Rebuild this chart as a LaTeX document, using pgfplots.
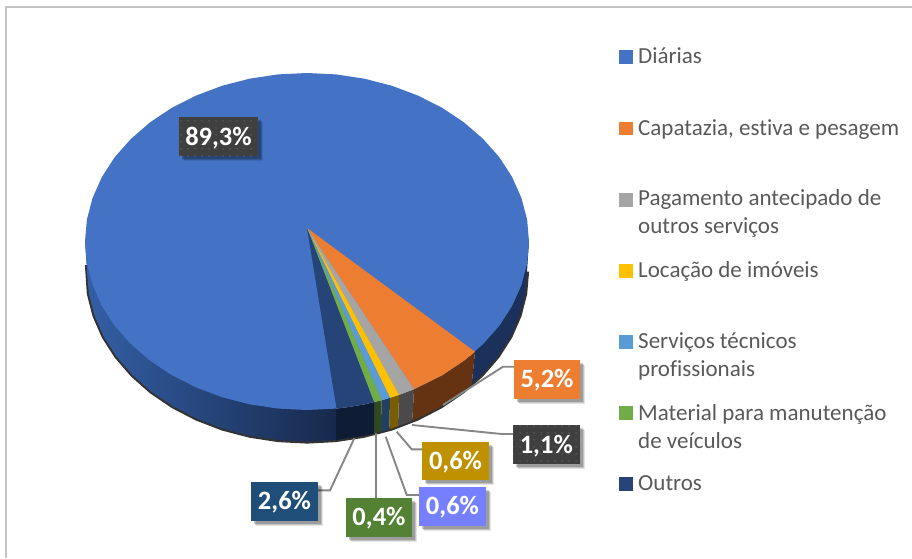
\documentclass[border=0pt]{standalone}
\usepackage{fontspec}
\setmainfont[Ligatures=NoCommon]{Carlito}
\usepackage{pgfplots}
\pgfplotsset{compat=1.18}
\usetikzlibrary{shadows,patterns.meta}
\definecolor{cDia}{HTML}{4472C4}
\definecolor{cCap}{HTML}{ED7D31}
\definecolor{cPag}{HTML}{A5A5A5}
\definecolor{cLoc}{HTML}{FFC000}
\definecolor{cSer}{HTML}{5B9BD5}
\definecolor{cMat}{HTML}{70AD47}
\definecolor{cOut}{HTML}{264478}
\definecolor{sLeftA}{HTML}{345FA6}
\definecolor{sLeftB}{HTML}{17294C}
\definecolor{sRight}{HTML}{1B305A}
\definecolor{sCap}{HTML}{653311}
\definecolor{sPag}{HTML}{4A4A4A}
\definecolor{sLoc}{HTML}{7A5D00}
\definecolor{sSer}{HTML}{22405F}
\definecolor{sMat}{HTML}{2F4A20}
\definecolor{sOut}{HTML}{0E1C35}
\definecolor{leader}{HTML}{868686}
\definecolor{ltext}{HTML}{595959}
\definecolor{frame}{HTML}{C4C4C4}
\definecolor{l1}{HTML}{3F3F3F}
\definecolor{l2}{HTML}{BF9000}
\definecolor{l3}{HTML}{7680FF}
\definecolor{l4}{HTML}{548235}
\definecolor{l5}{HTML}{1F4E79}
\newcommand{\lb}[1]{\raisebox{-8.4pt}[0pt][0pt]{#1}}
\tikzset{
 lab/.style={text=white,font=\fontsize{26.5}{26.5}\selectfont\bfseries,inner sep=0pt,
   minimum width=66.5pt,minimum height=39pt,
   drop shadow={shadow xshift=5pt,shadow yshift=-5pt,opacity=.10,fill=black},
   drop shadow={shadow xshift=4pt,shadow yshift=-4pt,opacity=.15,fill=black},
   drop shadow={shadow xshift=3pt,shadow yshift=-3pt,opacity=.20,fill=black}},
 dots/.style={postaction={pattern={Dots[distance=6.5pt,radius=.6pt]},pattern color=white!35!l1}},
 lt/.style={anchor=base west,text=ltext,inner sep=0pt,font=\fontsize{23}{23}\selectfont}
}
\begin{document}
\begin{tikzpicture}
\begin{axis}[scale only axis,width=912pt,height=558pt,xmin=0,xmax=912,ymin=0,ymax=558,
  y dir=reverse,hide axis,clip=true]
\path (axis cs:0,0) rectangle (axis cs:912,558);
% frame
\addplot[frame,line width=2.3pt] coordinates {(6,558)(6,7)(912,7)};
% dark rim shadow
\addplot[black!80,line width=4.2pt] coordinates {(527,271.5)(525.1,293.7)(519.5,315.5)(510.3,336.6)(497.5,356.5)(481.5,375)(462.6,391.7)(440.9,406.4)(417,418.7)(391.2,428.6)(363.9,435.7)(335.7,440)(307,441.5)(278.3,440)(250.1,435.7)(222.8,428.6)(197,418.7)(173.1,406.4)(151.4,391.7)(132.5,375)(116.5,356.5)(103.7,336.6)(94.5,315.5)(88.9,293.7)(87,265)};
% sides
\addplot[draw=none,left color=sLeftA,right color=sLeftB] coordinates {(336,408)(336,440)(307,441.5)(278.3,440)(250.1,435.7)(222.8,428.6)(197,418.7)(173.1,406.4)(151.4,391.7)(132.5,375)(116.5,356.5)(103.7,336.6)(94.5,315.5)(88.9,293.7)(87,271.5)(85,241.5)(200,250)} -- cycle;
\addplot[draw=none,fill=sRight] coordinates {(529,241.5)(527,271.5)(525.1,293.7)(519.5,315.5)(510.3,336.6)(497.5,356.5)(481.5,375)(471.7,384)(475,351.7)(400,250)} -- cycle;
\addplot[draw=none,fill=sCap] coordinates {(475,351.7)(471.7,384)(462.6,391.7)(440.9,406.4)(417,418.7)(412.3,420.7)(414,389.2)(442.2,375.2)(464,360.6)} -- cycle;
\addplot[draw=none,fill=sPag] coordinates {(414,389.2)(412.3,420.7)(398,426.2)(399,394.9)} -- cycle;
\addplot[draw=none,fill=sLoc] coordinates {(399,394.9)(398,426.2)(389.3,429.2)(390,397.8)} -- cycle;
\addplot[draw=none,fill=sSer] coordinates {(390,397.8)(389.3,429.2)(380.7,431.6)(381.7,400.2)} -- cycle;
\addplot[draw=none,fill=sMat] coordinates {(381.7,400.2)(380.7,431.6)(374,433.4)(374,402.1)} -- cycle;
\addplot[draw=none,fill=sOut] coordinates {(374,402.1)(374,433.4)(363.9,435.7)(336,440)(336,408.6)(350,406.8)(364.5,404.3)} -- cycle;
% top: Diarias
\addplot[draw=none,fill=cDia] coordinates {(529,241.5)(527.1,263.5)(521.4,285.1)(512.1,306)(499.3,325.8)(483.1,344.1)(464,360.6)(442.2,375.2)(418,387.4)(392,397.2)(364.5,404.3)(336,408.6)(307,410)(278,408.6)(249.5,404.3)(222,397.2)(196,387.4)(171.8,375.2)(150,360.6)(130.9,344.1)(114.7,325.8)(101.9,306)(92.6,285.1)(86.9,263.5)(85,241.5)(86.9,219.5)(92.6,197.9)(101.9,177)(114.7,157.2)(130.9,138.9)(150,122.4)(171.8,107.8)(196,95.6)(222,85.8)(249.5,78.7)(278,74.4)(307,73)(336,74.4)(364.5,78.7)(392,85.8)(418,95.6)(442.2,107.8)(464,122.4)(483.1,138.9)(499.3,157.2)(512.1,177)(521.4,197.9)(527.1,219.5)} -- cycle;
% top wedges
\addplot[draw=none,fill=cCap] coordinates {(307,228)(475,351.7)(464,360.6)(442.2,375.2)(414,389.2)} -- cycle;
\addplot[draw=none,fill=cPag] coordinates {(307,228)(414,389.2)(399,394.9)} -- cycle;
\addplot[draw=none,fill=cLoc] coordinates {(307,228)(399,394.9)(390,397.8)} -- cycle;
\addplot[draw=none,fill=cSer] coordinates {(307,228)(390,397.8)(381.7,400.2)} -- cycle;
\addplot[draw=none,fill=cMat] coordinates {(307,228)(381.7,400.2)(374,402.1)} -- cycle;
\addplot[draw=none,fill=cOut] coordinates {(307,228)(374,402.1)(364.5,404.3)(350,406.8)(336.5,408.6)} -- cycle;
% leader lines
\addplot[leader,line width=1.9pt] coordinates {(443,405)(503,366.7)(514,366.7)};
\addplot[leader,line width=1.9pt] coordinates {(412,425)(501.7,434)(513,434)};
\addplot[leader,line width=1.9pt] coordinates {(396.7,431.7)(411.7,449.3)(422,449.3)};
\addplot[leader,line width=1.9pt] coordinates {(385.7,436.7)(406.7,495)(420,495)};
\addplot[leader,line width=1.9pt] coordinates {(376.3,433.3)(376.3,498)};
\addplot[leader,line width=1.9pt] coordinates {(354.3,438.3)(330,490.3)(318,490.3)};
% legend squares
\addplot[only marks,mark=square*,mark size=6.4pt,cDia] coordinates {(626,56.7)};
\addplot[only marks,mark=square*,mark size=6.4pt,cCap] coordinates {(626,128.2)};
\addplot[only marks,mark=square*,mark size=6.4pt,cPag] coordinates {(626,199.7)};
\addplot[only marks,mark=square*,mark size=6.4pt,cLoc] coordinates {(626,271)};
\addplot[only marks,mark=square*,mark size=6.4pt,cSer] coordinates {(626,341.8)};
\addplot[only marks,mark=square*,mark size=6.4pt,cMat] coordinates {(626,413)};
\addplot[only marks,mark=square*,mark size=6.4pt,cOut] coordinates {(626,484)};
% legend text
\node[lt] at (axis cs:638,63.3) {Diárias};
\node[lt] at (axis cs:638,135.7) {Capatazia, estiva e pesagem};
\node[lt] at (axis cs:638,205.7) {Pagamento antecipado de};
\node[lt] at (axis cs:638,233.3) {outros serviços};
\node[lt] at (axis cs:638,277.3) {Locação de imóveis};
\node[lt] at (axis cs:638,348.3) {Serviços técnicos};
\node[lt] at (axis cs:638,376.7) {profissionais};
\node[lt] at (axis cs:638,420) {Material para manutenção};
\node[lt] at (axis cs:638,448.3) {de veículos};
\node[lt] at (axis cs:638,490.7) {Outros};
% data labels
\node[lab,fill=l1,dots,minimum width=78.4pt] at (axis cs:218.5,136.7) {\lb{89,3\%}};
\node[lab,fill=cCap] at (axis cs:547,379) {\lb{5,2\%}};
\node[lab,fill=l1,dots] at (axis cs:546.3,444.7) {\lb{1,1\%}};
\node[lab,fill=l2,minimum height=37.7pt] at (axis cs:455.5,461) {\lb{0,6\%}};
\node[lab,fill=l3] at (axis cs:452.5,506) {\lb{0,6\%}};
\node[lab,fill=l4] at (axis cs:379,517.3) {\lb{0,4\%}};
\node[lab,fill=l5] at (axis cs:284.5,501.3) {\lb{2,6\%}};
\end{axis}
\end{tikzpicture}
\end{document}
